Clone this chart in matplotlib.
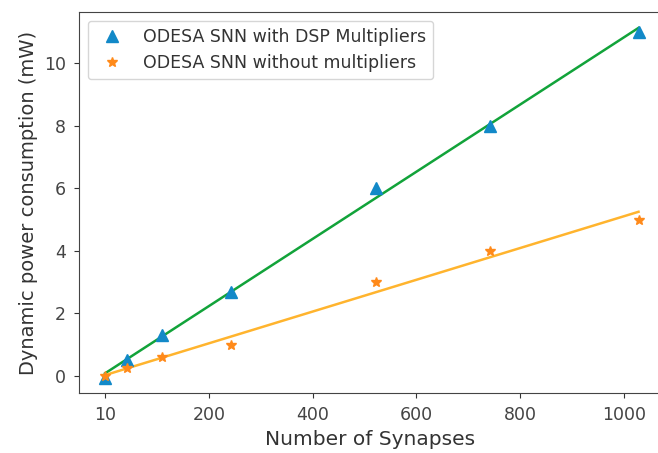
import matplotlib.pyplot as plt
import numpy as np

# values (x in axis units, first tick labelled "10")
synapses = [0, 42, 110, 243, 522, 742, 1028]
power_dsp = [-0.05, 0.5, 1.3, 2.7, 6.0, 8.0, 11.0]
power_nomul = [0.0, 0.25, 0.6, 1.0, 3.0, 4.0, 5.0]
xtick_pos = [0, 200, 400, 600, 800, 1000]
xtick_labels = ["10", "200", "400", "600", "800", "1000"]

fig = plt.figure(figsize=(6.58, 4.53), dpi=100)
ax = fig.add_axes([79 / 658, 60 / 453, (661 - 79) / 658, 381 / 453])

x = np.array(synapses)
fit_dsp = np.polyfit(x, power_dsp, 1)
fit_nomul = np.polyfit(x, power_nomul, 1)
xl = np.array([x.min(), x.max()])

ax.plot(xl, np.polyval(fit_dsp, xl), color="#12a33a", linewidth=1.8, zorder=2)
ax.plot(xl, np.polyval(fit_nomul, xl), color="#ffb42e", linewidth=1.8, zorder=2)
ax.plot(x, power_dsp, "^", color="#1289c8", markersize=8, linestyle="none",
        label="ODESA SNN with DSP Multipliers", zorder=3)
ax.plot(x, power_nomul, "*", color="#ff8a1a", markersize=7.5, linestyle="none",
        label="ODESA SNN without multipliers", zorder=3)

ax.set_xlim(-50, (661 - 105) / 0.519)
ax.set_ylim(-0.54, 11.63)
ax.set_xticks(xtick_pos, xtick_labels)
ax.set_yticks([0, 2, 4, 6, 8, 10])
ax.tick_params(labelsize=12.5, pad=6, colors="#333333", labelcolor="#444444")
for s in ax.spines.values():
    s.set_color("#444444")

ax.set_xlabel("Number of Synapses", fontsize=14.5, color="#333333")
ax.set_ylabel("Dynamic power consumption (mW)", fontsize=14, color="#333333")
ax.legend(loc="upper left", fontsize=12.5, labelcolor="#333333")

plt.savefig("out.png", dpi=100)
